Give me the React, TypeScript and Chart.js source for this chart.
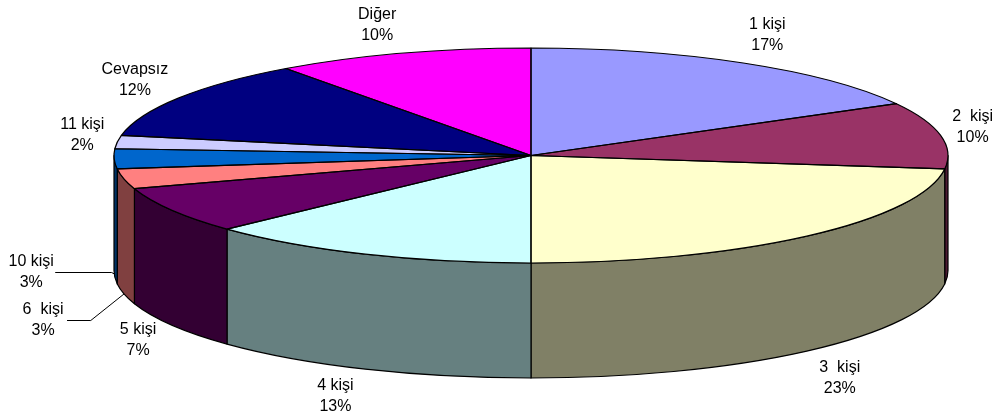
import React, { useEffect, useRef } from "react";
import { Chart, registerables } from "chart.js";

Chart.register(...registerables);

// ---- data ----
const categories = ["1 kişi", "2  kişi", "3  kişi", "4 kişi", "5 kişi", "6  kişi", "10 kişi", "11 kişi", "Cevapsız", "Diğer"];
const percentages = [17, 10, 23, 13, 7, 3, 3, 2, 12, 10];
const sliceColors = ["#9999FF", "#993366", "#FFFFCC", "#CCFFFF", "#660066", "#FF8080", "#0066CC", "#CCCCFF", "#000080", "#FF00FF"];

// ---- layout (3D projection of the pie) ----
const CX = 531;
const CY = 155.5;
const RX = 417;
const RY = 107.5;
const DEPTH = 115;
// label centre offsets relative to the slice's mid-angle anchor on the rim
const labelOffsets: [number, number][] = [
  [24, -28], [32, -8], [33, 27], [-30, 27], [-34, 15],
  [-81, 26], [-83, -2], [-35, -7], [-44, -18], [-25, -28],
];
const leaderLines = [false, false, false, false, false, true, true, false, false, false];
const FONT = "16px 'Liberation Sans', Arial, sans-serif";

function darken(hex: string): string {
  const n = parseInt(hex.slice(1), 16);
  const r = Math.round(((n >> 16) & 255) * 0.5);
  const g = Math.round(((n >> 8) & 255) * 0.5);
  const b = Math.round((n & 255) * 0.5);
  return `rgb(${r},${g},${b})`;
}

function anchorFor(mid: number): [number, number] {
  const x = CX + RX * Math.cos(mid);
  let y = CY + RY * Math.sin(mid);
  const m = ((mid % (2 * Math.PI)) + 2 * Math.PI) % (2 * Math.PI);
  if (m > 0 && m < Math.PI) y += DEPTH;
  return [x, y];
}

const pie3d = {
  id: "pie3d",
  beforeDatasetsDraw(chart: any) {
    const ctx = chart.ctx as CanvasRenderingContext2D;
    const meta = chart.getDatasetMeta(0);
    meta.data.forEach((el: any, i: number) => {
      const s = el.startAngle as number;
      const e = el.endAngle as number;
      const a = Math.max(s, 0);
      const b = Math.min(e, Math.PI);
      if (b <= a) return;
      ctx.save();
      ctx.beginPath();
      ctx.ellipse(CX, CY, RX, RY, 0, a, b, false);
      ctx.lineTo(CX + RX * Math.cos(b), CY + RY * Math.sin(b) + DEPTH);
      ctx.ellipse(CX, CY + DEPTH, RX, RY, 0, b, a, true);
      ctx.closePath();
      ctx.fillStyle = darken(sliceColors[i]);
      ctx.fill();
      ctx.lineWidth = 1.2;
      ctx.strokeStyle = "#000";
      ctx.lineJoin = "round";
      ctx.stroke();
      ctx.restore();
    });
    const el0 = meta.data[0];
    const R = el0.outerRadius as number;
    ctx.save();
    ctx.translate(CX, CY);
    ctx.scale(RX / R, RY / R);
    ctx.translate(-el0.x, -el0.y);
  },
  afterDatasetsDraw(chart: any) {
    const ctx = chart.ctx as CanvasRenderingContext2D;
    ctx.restore();
    const meta = chart.getDatasetMeta(0);
    ctx.save();
    ctx.lineWidth = 1.2;
    ctx.strokeStyle = "#000";
    ctx.lineJoin = "round";
    meta.data.forEach((el: any) => {
      const s = el.startAngle as number;
      const e = el.endAngle as number;
      ctx.beginPath();
      ctx.moveTo(CX, CY);
      ctx.lineTo(CX + RX * Math.cos(s), CY + RY * Math.sin(s));
      ctx.ellipse(CX, CY, RX, RY, 0, s, e, false);
      ctx.closePath();
      ctx.stroke();
    });
    ctx.restore();
  },
  afterDraw(chart: any) {
    const ctx = chart.ctx as CanvasRenderingContext2D;
    const meta = chart.getDatasetMeta(0);
    ctx.save();
    ctx.font = FONT;
    ctx.fillStyle = "#000";
    ctx.textAlign = "center";
    ctx.textBaseline = "middle";
    meta.data.forEach((el: any, i: number) => {
      const mid = (el.startAngle + el.endAngle) / 2;
      const [ax, ay] = anchorFor(mid);
      const lx = ax + labelOffsets[i][0];
      const ly = ay + labelOffsets[i][1];
      ctx.fillText(categories[i], lx, ly - 10.5);
      ctx.fillText(`${percentages[i]}%`, lx, ly + 10.5);
      if (leaderLines[i]) {
        const dy = Math.abs(ly - ay);
        ctx.beginPath();
        ctx.strokeStyle = "#000";
        ctx.lineWidth = 1;
        ctx.moveTo(lx + 24, Math.round(ly) + 0.5);
        ctx.lineTo(ax - dy * 1.28, Math.round(ly) + 0.5);
        ctx.lineTo(ax, ay);
        ctx.stroke();
      }
    });
    ctx.restore();
  },
};

export default function App() {
  const ref = useRef<HTMLCanvasElement | null>(null);
  useEffect(() => {
    if (!ref.current) return;
    const chart = new Chart(ref.current, {
      type: "pie",
      data: {
        labels: categories,
        datasets: [
          {
            data: percentages,
            backgroundColor: sliceColors,
            borderWidth: 0,
            clip: false as any,
          },
        ],
      },
      options: {
        responsive: false,
        animation: false,
        events: [],
        layout: { padding: 0 },
        plugins: {
          legend: { display: false },
          tooltip: { enabled: false },
        },
      },
      plugins: [pie3d],
    });
    return () => chart.destroy();
  }, []);
  return (
    <div style={{ position: "absolute", left: 0, top: 0, width: 999, height: 419, background: "#fff" }}>
      <canvas ref={ref} width={999} height={419} style={{ display: "block" }} />
    </div>
  );
}
